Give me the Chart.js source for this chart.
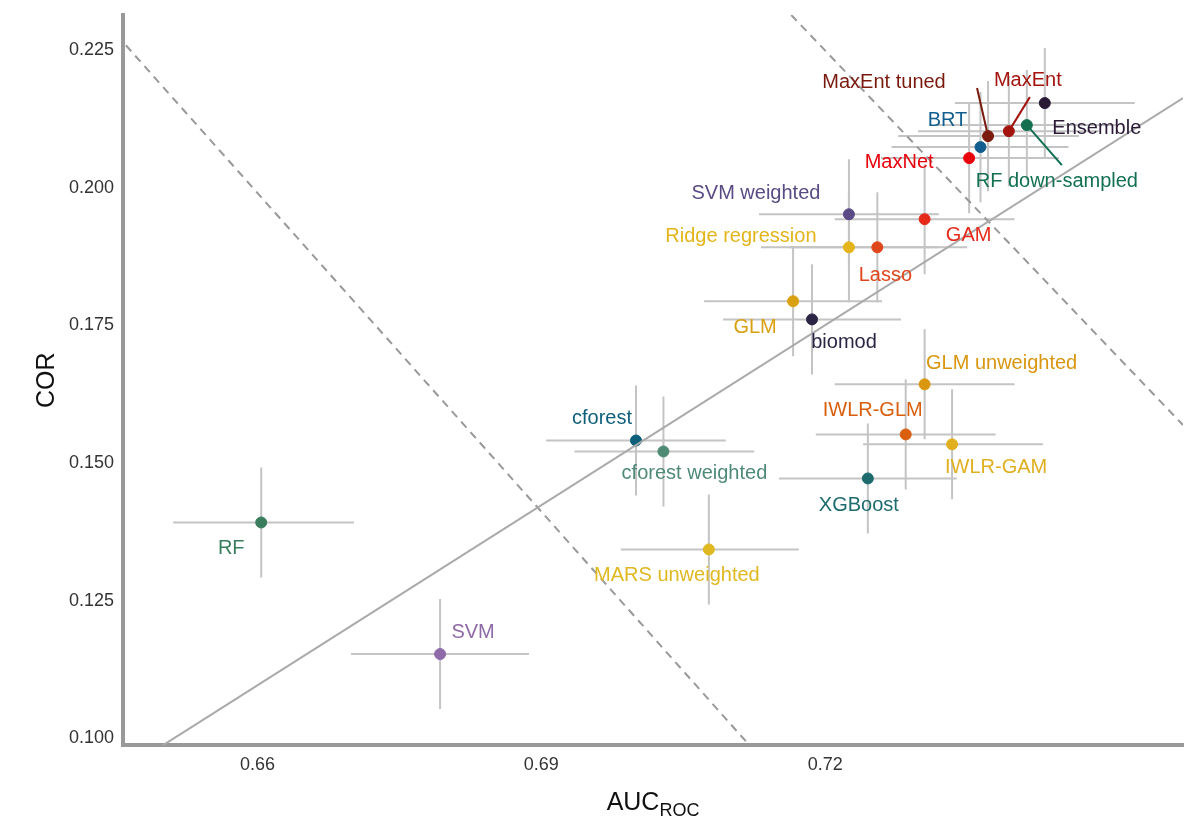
<!DOCTYPE html>
<html>
<head>
<meta charset="utf-8">
<script src="https://cdn.jsdelivr.net/npm/chart.js@4"></script>
<style>body{margin:0;background:#fff}</style>
</head>
<body>
<canvas id="c" width="1200" height="840"></canvas>
<script>
const models = ['RF', 'SVM', 'MARS unweighted', 'cforest', 'cforest weighted', 'XGBoost', 'IWLR-GLM', 'IWLR-GAM',
  'GLM unweighted', 'GLM', 'biomod', 'Ridge regression', 'Lasso', 'SVM weighted', 'GAM', 'MaxNet', 'BRT',
  'MaxEnt tuned', 'MaxEnt', 'RF down-sampled', 'Ensemble'];
const auc = [0.6604, 0.6793, 0.7077, 0.7000, 0.7029, 0.7245, 0.7285, 0.7334, 0.7305, 0.7166, 0.7186, 0.7225,
  0.7255, 0.7225, 0.7305, 0.7352, 0.7364, 0.7372, 0.7394, 0.7413, 0.7432];
const aucLo = [0.6511, 0.6699, 0.6984, 0.6905, 0.6935, 0.7151, 0.7190, 0.7240, 0.7210, 0.7072, 0.7092, 0.7132,
  0.7162, 0.7130, 0.7210, 0.7259, 0.7270, 0.7277, 0.7298, 0.7317, 0.7337];
const aucHi = [0.6702, 0.6887, 0.7172, 0.7095, 0.7125, 0.7339, 0.7380, 0.7430, 0.7400, 0.7260, 0.7280, 0.7320,
  0.7350, 0.7320, 0.7400, 0.7447, 0.7457, 0.7468, 0.7489, 0.7507, 0.7527];
const cor = [0.1392, 0.1153, 0.1343, 0.1541, 0.1521, 0.1472, 0.1552, 0.1534, 0.1643, 0.1794, 0.1761, 0.1892,
  0.1892, 0.1952, 0.1943, 0.2054, 0.2074, 0.2094, 0.2103, 0.2114, 0.2154];
const corLo = cor.map((v) => v - 0.01);
const corHi = cor.map((v) => v + 0.01);
const colors = ['#3a7d5c', '#8f6aa8', '#e0b820', '#0e5f7a', '#4f8a74', '#1e6b6e', '#d95f0e', '#e0b020',
  '#d9960e', '#d9a010', '#2c2545', '#e3b51a', '#e0461b', '#5a4a85', '#e52a1a', '#e8000b', '#125f8f',
  '#7a1a0e', '#a3140f', '#127050', '#2a1a35'];
const xTicks = [0.66, 0.69, 0.72];
const yTicks = [0.100, 0.125, 0.150, 0.175, 0.200, 0.225];
const fitLine = [{ x: 0.6500, y: 0.0987 }, { x: 0.7578, y: 0.2163 }];
const dashLine1 = [{ x: 0.6461, y: 0.2259 }, { x: 0.7120, y: 0.0987 }];
const dashLine2 = [{ x: 0.7164, y: 0.2314 }, { x: 0.7578, y: 0.1569 }];

// label offsets in pixels from each point, [dx, dy, leader]
const labelPos = [[-30, 26], [33, -22], [-32, 26], [-34, -22], [31, 22], [-9, 27], [-33, -24], [44, 23],
  [77, -21], [-38, 26], [32, 23], [-108, -11], [8, 28], [-93, -21], [44, 16], [-70, 4], [-33, -27],
  [-104, -54, [-11, -48]], [19, -51, [21, -34]], [30, 56, [35, 40]], [52, 25]];

const overlay = {
  id: 'overlay',
  beforeDatasetsDraw(chart) {
    const { ctx, scales: { x, y } } = chart;
    ctx.save();
    ctx.strokeStyle = '#c4c4c4';
    ctx.lineWidth = 2;
    models.forEach((m, i) => {
      ctx.beginPath();
      ctx.moveTo(x.getPixelForValue(aucLo[i]), y.getPixelForValue(cor[i]));
      ctx.lineTo(x.getPixelForValue(aucHi[i]), y.getPixelForValue(cor[i]));
      ctx.moveTo(x.getPixelForValue(auc[i]), y.getPixelForValue(corLo[i]));
      ctx.lineTo(x.getPixelForValue(auc[i]), y.getPixelForValue(corHi[i]));
      ctx.stroke();
    });
    ctx.restore();
  },
  afterDraw(chart) {
    const { ctx, scales: { x, y }, chartArea } = chart;
    ctx.save();
    ctx.font = '20px "Liberation Sans", Arial, sans-serif';
    ctx.textAlign = 'center';
    ctx.textBaseline = 'middle';
    models.forEach((m, i) => {
      const px = x.getPixelForValue(auc[i]);
      const py = y.getPixelForValue(cor[i]);
      const [dx, dy, lead] = labelPos[i];
      ctx.fillStyle = colors[i];
      ctx.fillText(m, px + dx, py + dy);
      if (lead) {
        ctx.strokeStyle = colors[i];
        ctx.lineWidth = 2;
        ctx.beginPath();
        ctx.moveTo(px + lead[0], py + lead[1]);
        ctx.lineTo(px, py);
        ctx.stroke();
      }
    });
    // x title with subscript
    ctx.fillStyle = '#111';
    ctx.textAlign = 'left';
    ctx.font = '25px "Liberation Sans", Arial, sans-serif';
    const cx = (chartArea.left + chartArea.right) / 2;
    const w1 = ctx.measureText('AUC').width;
    ctx.font = '18px "Liberation Sans", Arial, sans-serif';
    const w2 = ctx.measureText('ROC').width;
    const sx = cx - (w1 + w2) / 2;
    ctx.font = '25px "Liberation Sans", Arial, sans-serif';
    ctx.fillText('AUC', sx, 803);
    ctx.font = '18px "Liberation Sans", Arial, sans-serif';
    ctx.fillText('ROC', sx + w1, 811);
    ctx.restore();
  },
};

const lineDs = (data, dash) => ({
  type: 'line', data, borderColor: dash ? '#999' : '#aaa', borderWidth: 2,
  borderDash: dash ? [8, 6] : [], pointRadius: 0, fill: false,
});

new Chart(document.getElementById('c'), {
  type: 'scatter',
  data: {
    datasets: [
      lineDs(fitLine, false),
      lineDs(dashLine1, true),
      lineDs(dashLine2, true),
      {
        data: auc.map((v, i) => ({ x: v, y: cor[i] })),
        backgroundColor: colors,
        borderColor: colors,
        pointRadius: 5.5,
      },
    ],
  },
  options: {
    responsive: false,
    animation: false,
    layout: { padding: { top: 15, right: 17, bottom: 61, left: 28 } },
    plugins: { legend: { display: false }, tooltip: { enabled: false } },
    scales: {
      x: {
        type: 'linear', min: 0.6458, max: 0.7578,
        afterBuildTicks: (s) => { s.ticks = xTicks.map((v) => ({ value: v })); },
        ticks: { color: '#333', font: { size: 18, family: '"Liberation Sans", Arial' }, callback: (v) => v.toFixed(2) },
        grid: { display: false, drawTicks: true, tickLength: 6, tickColor: '#999', tickWidth: 2 },
        border: { color: '#999', width: 4 },
      },
      y: {
        min: 0.0987, max: 0.2314,
        afterBuildTicks: (s) => { s.ticks = yTicks.map((v) => ({ value: v })); },
        ticks: { color: '#333', font: { size: 18, family: '"Liberation Sans", Arial' }, callback: (v) => v.toFixed(3) },
        grid: { display: false, tickLength: 6, tickColor: '#999', tickWidth: 2 },
        border: { color: '#999', width: 4 },
        title: { display: true, text: 'COR', color: '#111', font: { size: 25, family: '"Liberation Sans", Arial' } },
      },
    },
  },
  plugins: [overlay],
});
</script>
</body>
</html>
